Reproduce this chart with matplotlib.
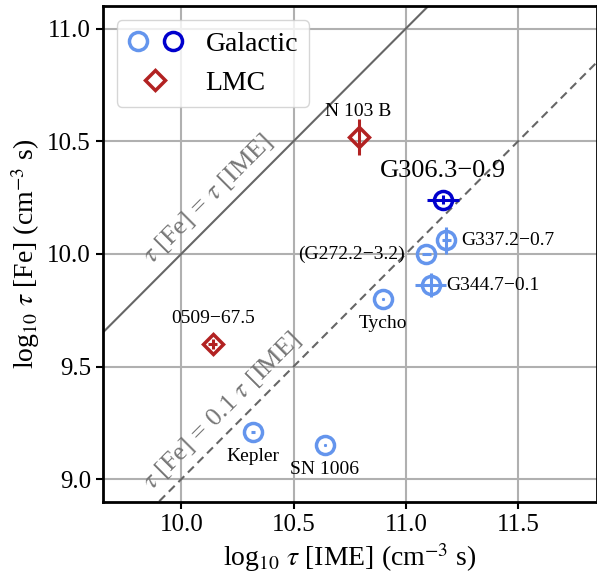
import matplotlib
matplotlib.use("Agg")
import matplotlib.pyplot as plt
from matplotlib.lines import Line2D
from matplotlib.legend_handler import HandlerTuple
import numpy as np

plt.rcParams['font.family'] = ['Liberation Serif', 'DejaVu Serif']
plt.rcParams['mathtext.fontset'] = 'stix'

# Galactic remnants (light blue)
gal_names = ['Kepler', 'SN 1006', 'Tycho', '(G272.2\u22123.2)', 'G337.2\u22120.7', 'G344.7\u22120.1']
gal_x = [10.32, 10.64, 10.90, 11.09, 11.18, 11.11]
gal_y = [9.21, 9.15, 9.80, 10.00, 10.06, 9.86]
gal_xerr = [0.008, 0.004, 0.004, 0.02, 0.02, 0.07]
gal_yerr = [0.003, 0.004, 0.004, 0.004, 0.06, 0.053]

# highlighted Galactic remnant (dark blue)
hl_name = 'G306.3\u22120.9'
hl_x = [11.165]
hl_y = [10.24]
hl_xerr = [0.07]
hl_yerr = [0.02]

# LMC remnants
lmc_names = ['N 103 B', '0509\u221267.5']
lmc_x = [10.79, 10.14]
lmc_y = [10.52, 9.60]
lmc_xerr = [0.005, 0.02]
lmc_yerr = [0.08, 0.02]

light = '#6495ed'
dark = '#0000cd'
red = '#b22222'

fig = plt.figure(figsize=(5.97, 5.77), dpi=100)
ax = fig.add_axes([0.172, 0.1305, 0.8275, 0.859])

ax.set_xlim(9.65, 11.85)
ax.set_ylim(8.9, 11.1)
ax.set_xticks([10.0, 10.5, 11.0, 11.5])
ax.set_yticks([9.0, 9.5, 10.0, 10.5, 11.0])
ax.grid(True, color='#b0b0b0', lw=1.5, zorder=0)
ax.set_axisbelow(True)

# reference lines
xx = np.array([9.0, 12.5])
ax.plot(xx, xx, color='#666666', lw=1.5, zorder=1)
ax.plot(xx, xx - 1, color='#666666', lw=1.5, ls=(0, (4, 2.5)), zorder=1)
ax.text(10.122, 10.241, r'$\tau$ [Fe] = $\tau$ [IME]', rotation=45, color='#777777',
        fontsize=19, ha='center', va='center')
ax.text(10.184, 9.304, r'$\tau$ [Fe] = 0.1 $\tau$ [IME]', rotation=45, color='#777777',
        fontsize=19, ha='center', va='center')

ms = 13
mew = 2.5
ax.errorbar(gal_x, gal_y, xerr=gal_xerr, yerr=gal_yerr, fmt='o', ms=ms, mew=mew,
            mfc='none', mec=light, ecolor=light, elinewidth=2.2, capsize=0, zorder=3)
ax.errorbar(hl_x, hl_y, xerr=hl_xerr, yerr=hl_yerr, fmt='o', ms=ms, mew=mew,
            mfc='none', mec=dark, ecolor=dark, elinewidth=2.2, capsize=0, zorder=3)
ax.errorbar(lmc_x, lmc_y, xerr=lmc_xerr, yerr=lmc_yerr, fmt='D', ms=10.5, mew=mew,
            mfc='none', mec=red, ecolor=red, elinewidth=2.2, capsize=0, zorder=3)

# point labels (offsets in points)
lab_off = {
    'Kepler': (0, -17.5, 'center', 'center'),
    'SN 1006': (0, -17.5, 'center', 'center'),
    'Tycho': (0, -17.5, 'center', 'center'),
    '(G272.2\u22123.2)': (-15, 0, 'right', 'center'),
    'G337.2\u22120.7': (11, 0, 'left', 'center'),
    'G344.7\u22120.1': (11, 0, 'left', 'center'),
}
for n, x, y in zip(gal_names, gal_x, gal_y):
    dx, dy, ha, va = lab_off[n]
    ax.annotate(n, (x, y), xytext=(dx, dy), textcoords='offset points',
                ha=ha, va=va, fontsize=14)
for n, x, y in zip(lmc_names, lmc_x, lmc_y):
    ax.annotate(n, (x, y), xytext=(0, 18.5), textcoords='offset points',
                ha='center', va='center', fontsize=14)
ax.annotate(hl_name, (hl_x[0], hl_y[0]), xytext=(0, 20.5), textcoords='offset points',
            ha='center', va='center', fontsize=19)

ax.set_xlabel(r'log$_{10}$ $\tau$ [IME] (cm$^{-3}$ s)', fontsize=20, labelpad=4)
ax.set_ylabel(r'log$_{10}$ $\tau$ [Fe] (cm$^{-3}$ s)', fontsize=20, labelpad=4)
ax.tick_params(labelsize=18, width=1.5, length=5)
for s in ax.spines.values():
    s.set_linewidth(2)

h_light = Line2D([], [], ls='none', marker='o', ms=ms, mew=mew, mfc='none', mec=light)
h_dark = Line2D([], [], ls='none', marker='o', ms=ms, mew=mew, mfc='none', mec=dark)
h_lmc = Line2D([], [], ls='none', marker='D', ms=10.5, mew=mew, mfc='none', mec=red)
ax.legend([(h_light, h_dark), h_lmc], ['Galactic', 'LMC'], loc='upper left',
          handler_map={tuple: HandlerTuple(ndivide=None, pad=0.5)},
          fontsize=20, handlelength=2.0, borderpad=0.4, labelspacing=0.5,
          handletextpad=0.8)

fig.savefig('out.png', dpi=100)
